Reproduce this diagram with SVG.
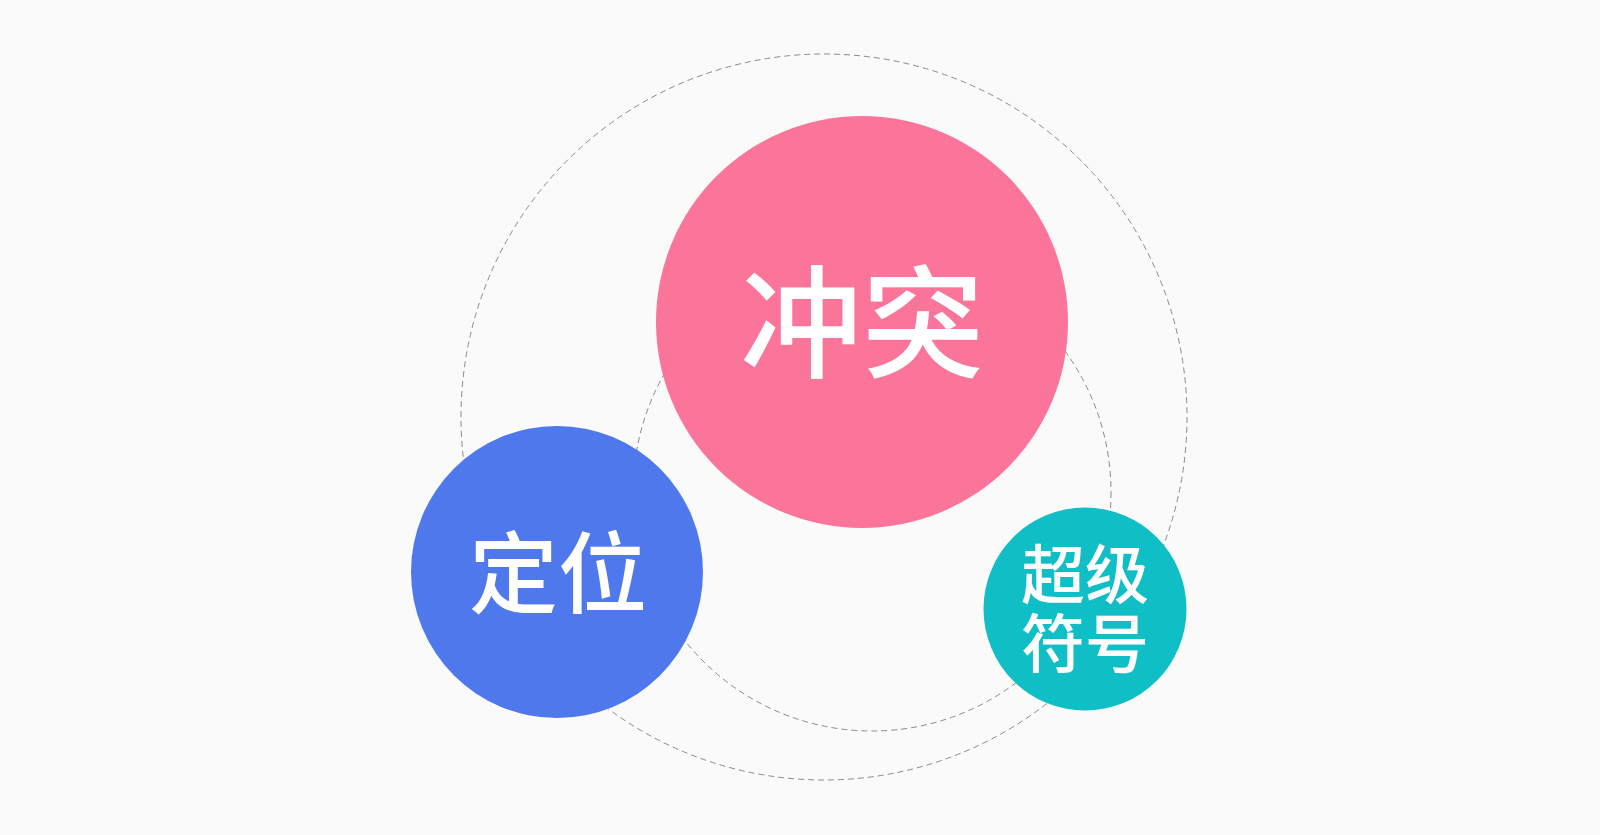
<svg xmlns="http://www.w3.org/2000/svg" width="1600" height="835" viewBox="0 0 1600 835">
<style>
.ring{fill:none;stroke:#8a8a8a;stroke-width:1;stroke-dasharray:6 4}
.lbl{fill:#ffffff;font-family:"Noto Sans CJK SC","Noto Sans CJK JP",sans-serif;font-weight:500;text-anchor:middle}
</style>
<rect width="1600" height="835" fill="#fafafa"/>
<g id="connectors">
<circle class="ring" cx="824" cy="417" r="363"/>
<circle class="ring" cx="872" cy="492" r="239"/>
</g>
<g id="node-chongtu">
<circle cx="862" cy="322" r="206" fill="#fb7499"/>
<text class="lbl" x="862" y="368" font-size="122">冲突</text>
</g>
<g id="node-dingwei">
<circle cx="557" cy="572" r="146" fill="#4f78ec"/>
<text class="lbl" x="558" y="606" font-size="89">定位</text>
</g>
<g id="node-chaojifuhao">
<circle cx="1085" cy="609" r="101.5" fill="#10bec6"/>
<text class="lbl" font-size="64"><tspan x="1085" y="598">超级</tspan><tspan x="1085" y="667">符号</tspan></text>
</g>
</svg>
